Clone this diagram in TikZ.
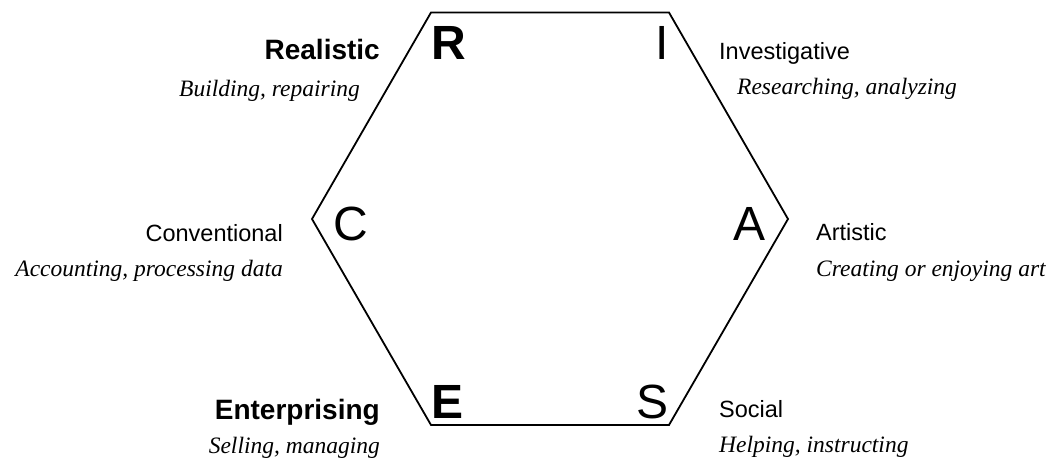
\documentclass[tikz,border=0pt]{standalone}
\usepackage{fontspec}
\setmainfont{Liberation Serif}
\setsansfont{Liberation Sans}
\usetikzlibrary{positioning, calc}

\tikzset{
	letter/.style={font=\sffamily\fontsize{48}{48}\selectfont, inner sep=0pt},
	type/.style={font=\sffamily\fontsize{23.5}{24}\selectfont, inner sep=0pt},
	boldtype/.style={font=\sffamily\bfseries\fontsize{28}{28}\selectfont, inner sep=0pt},
	activity/.style={font=\itshape\fontsize{23.5}{24}\selectfont, inner sep=0pt}
}

\begin{document}
\begin{tikzpicture}[x=1pt, y=-1pt]
	\useasboundingbox (0,0) rectangle (1053,460);
	% hexagon corners
	\coordinate (tl) at (431,12.5); \coordinate (tr) at (669,12.5);
	\coordinate (rr) at (788,219);
	\coordinate (br) at (669,425); \coordinate (bl) at (431,425);
	\coordinate (ll) at (312,219);
	\draw[line width=1.8pt] (tl) -- (tr) -- (rr) -- (br) -- (bl) -- (ll) -- cycle;
	% letters
	\node[letter, anchor=base west] (R) at (431,60) {\bfseries R};
	\node[letter, anchor=base east] (I) at (669,60) {I};
	\node[letter, anchor=base west] (C) at (333,240) {C};
	\node[letter, anchor=base east] (A) at (766,240) {A};
	\node[letter, anchor=base west] (E) at (431,418) {\bfseries E};
	\node[letter, anchor=base east] (S) at (669,418) {S};
	% types
	\node[boldtype, anchor=base east] (realistic) at (380,60) {Realistic};
	\node[activity, anchor=base east] (building) at (360,96) {Building, repairing};
	\node[type, anchor=base west] (investigative) at (719,60) {Investigative};
	\node[activity, anchor=base west] (researching) at (737,95) {Researching, analyzing};
	\node[type, anchor=base east] (conventional) at (283,241) {Conventional};
	\node[activity, anchor=base east] (accounting) at (283,276) {Accounting, processing data};
	\node[type, anchor=base west] (artistic) at (816,240) {Artistic};
	\node[activity, anchor=base west] (creating) at (816,276) {Creating or enjoying art};
	\node[boldtype, anchor=base east] (enterprising) at (380,419) {Enterprising};
	\node[activity, anchor=base east] (selling) at (380,453) {Selling, managing};
	\node[type, anchor=base west] (social) at (719,417) {Social};
	\node[activity, anchor=base west] (helping) at (719,452) {Helping, instructing};
\end{tikzpicture}
\end{document}
